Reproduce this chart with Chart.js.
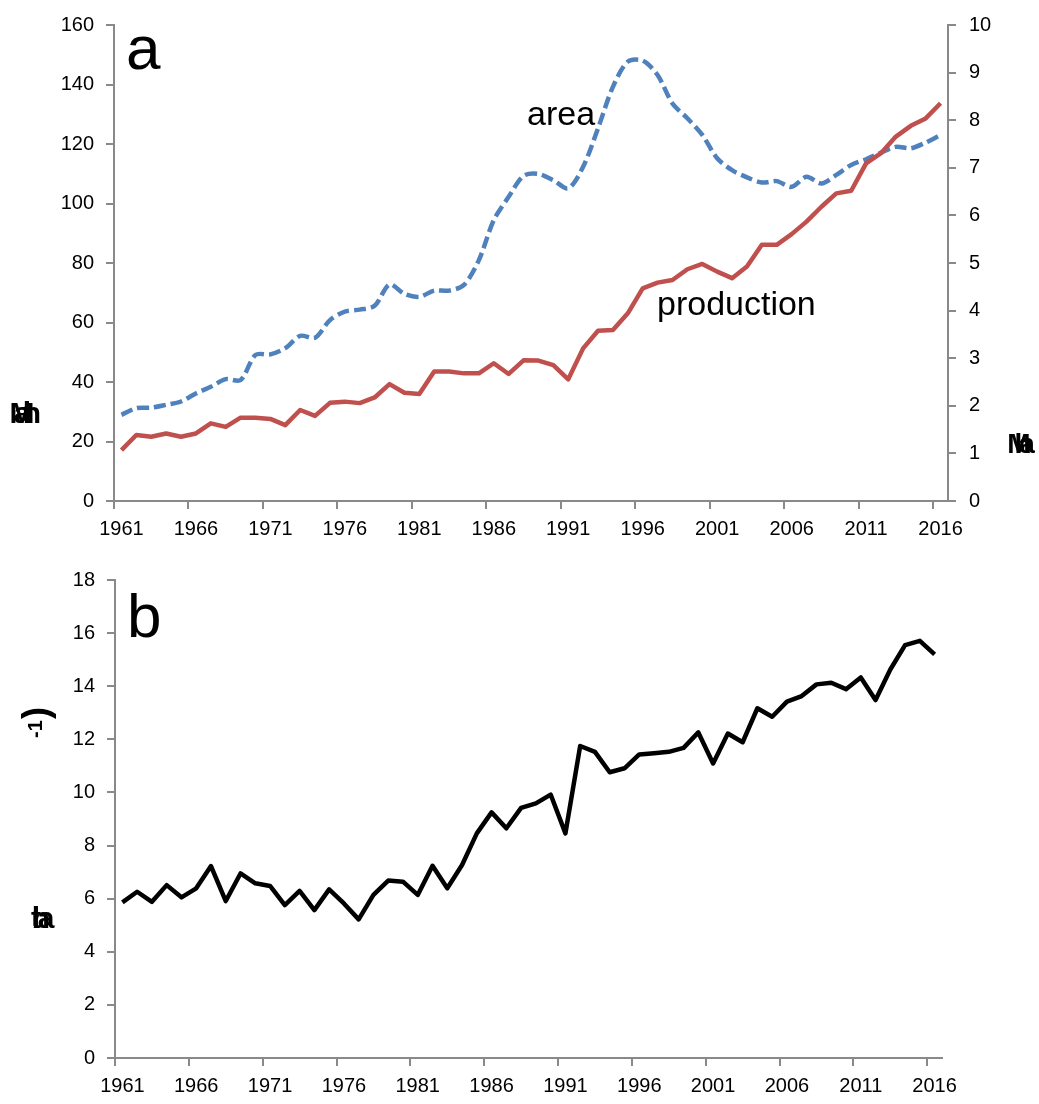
<!DOCTYPE html>
<html>
<head>
<meta charset="utf-8">
<script src="https://cdn.jsdelivr.net/npm/chart.js@4.4.1/dist/chart.umd.min.js"></script>
<style>
  body { margin: 0; background: #fff; }
  canvas { display: block; }
</style>
</head>
<body>
<canvas id="chartA" width="1039" height="548"></canvas>
<canvas id="chartB" width="1039" height="556"></canvas>
<script>
// jaren (categorieen)
const years = [
  "1961","1962","1963","1964","1965","1966","1967","1968","1969","1970",
  "1971","1972","1973","1974","1975","1976","1977","1978","1979","1980",
  "1981","1982","1983","1984","1985","1986","1987","1988","1989","1990",
  "1991","1992","1993","1994","1995","1996","1997","1998","1999","2000",
  "2001","2002","2003","2004","2005","2006","2007","2008","2009","2010",
  "2011","2012","2013","2014","2015","2016"
];

// paneel a: productie (linker as)
const production = [
  17.1, 22.2, 21.6, 22.7, 21.6, 22.7, 26.1, 24.9, 28.0, 28.0,
  27.6, 25.5, 30.6, 28.6, 33.0, 33.4, 32.9, 34.8, 39.3, 36.4,
  36.0, 43.5, 43.5, 42.9, 42.9, 46.3, 42.7, 47.3, 47.2, 45.7,
  40.9, 51.3, 57.2, 57.5, 63.1, 71.5, 73.4, 74.3, 77.9, 79.7,
  77.1, 74.9, 78.8, 86.1, 86.1, 89.7, 93.9, 98.9, 103.4, 104.3,
  113.5, 116.9, 122.5, 126.1, 128.6, 133.7
];

// paneel a: areaal (rechter as)
const area = [
  1.81, 1.95, 1.96, 2.02, 2.09, 2.26, 2.40, 2.56, 2.54, 3.07,
  3.08, 3.21, 3.47, 3.43, 3.80, 3.98, 4.02, 4.10, 4.55, 4.35,
  4.29, 4.42, 4.42, 4.54, 5.06, 5.90, 6.39, 6.83, 6.87, 6.74,
  6.57, 7.02, 7.83, 8.70, 9.23, 9.25, 8.95, 8.35, 8.04, 7.69,
  7.20, 6.95, 6.80, 6.69, 6.72, 6.60, 6.81, 6.67, 6.85, 7.06,
  7.18, 7.32, 7.44, 7.41, 7.53, 7.69
];

// paneel b: opbrengst
const yieldValues = [
  5.86, 6.26, 5.88, 6.51, 6.05, 6.39, 7.23, 5.91, 6.95, 6.58,
  6.48, 5.76, 6.29, 5.57, 6.35, 5.82, 5.22, 6.14, 6.68, 6.64,
  6.14, 7.24, 6.39, 7.27, 8.46, 9.25, 8.65, 9.42, 9.59, 9.92,
  8.46, 11.75, 11.53, 10.76, 10.91, 11.43, 11.48, 11.53, 11.68, 12.26,
  11.09, 12.22, 11.89, 13.17, 12.85, 13.42, 13.63, 14.07, 14.13, 13.89,
  14.33, 13.48, 14.63, 15.55, 15.71, 15.20
];

// as-instellingen
const yearStep = 5;
const prodTicks = { min: 0, max: 160, step: 20 };
const areaTicks = { min: 0, max: 10, step: 1 };
const yieldTicks = { min: 0, max: 18, step: 2 };

const axisGrey = '#898989';
const fontFamily = '"Liberation Sans", Arial, sans-serif';

Chart.defaults.font.family = fontFamily;
Chart.defaults.font.size = 20;
Chart.defaults.color = '#000';

// tekst in de grafiek (paneelletters, labels, kapotte astitels)
const panelText = {
  id: 'panelText',
  afterDraw(chart, args, opts) {
    const ctx = chart.ctx;
    (opts.items || []).forEach(it => {
      ctx.save();
      ctx.fillStyle = '#000';
      if (it.blob) {
        // overlappende tekens, zoals in het origineel
        ctx.font = 'bold ' + it.size + 'px ' + fontFamily;
        ctx.textAlign = 'center';
        ctx.textBaseline = 'middle';
        [...it.blob].forEach((ch, i) => {
          const dx = (i % 3 - 1) * it.spread;
          ctx.fillText(ch, it.x + dx, it.y);
        });
      } else {
        ctx.font = it.font;
        ctx.translate(it.x, it.y);
        if (it.rotate) ctx.rotate(it.rotate);
        ctx.textAlign = it.align || 'left';
        ctx.textBaseline = 'alphabetic';
        ctx.fillText(it.text, 0, 0);
      }
      ctx.restore();
    });
  }
};

function xAxis() {
  return {
    type: 'category',
    offset: true,
    grid: {
      offset: true,
      drawOnChartArea: false,
      drawTicks: true,
      tickLength: 8,
      lineWidth: 2,
      color: c => (c.index !== undefined && c.index % yearStep === 0) ? axisGrey : 'rgba(0,0,0,0)'
    },
    border: { display: true, color: axisGrey, width: 2 },
    ticks: {
      autoSkip: false,
      maxRotation: 0,
      padding: 8,
      callback: (v, i) => i % yearStep === 0 ? years[i] : ''
    }
  };
}

function yAxis(t, position, width, padding) {
  return {
    type: 'linear',
    position: position,
    min: t.min,
    max: t.max,
    afterFit: s => { s.width = width; },
    grid: { drawOnChartArea: false, drawTicks: true, tickLength: 8, lineWidth: 2, color: axisGrey },
    border: { display: true, color: axisGrey, width: 2 },
    ticks: { stepSize: t.step, padding: padding }
  };
}

new Chart(document.getElementById('chartA'), {
  type: 'line',
  data: {
    labels: years,
    datasets: [
      {
        label: 'production',
        data: production,
        yAxisID: 'y',
        borderColor: '#C0504D',
        borderWidth: 4.5,
        borderJoinStyle: 'round',
        pointRadius: 0,
        tension: 0
      },
      {
        label: 'area',
        data: area,
        yAxisID: 'y1',
        borderColor: '#4F81BD',
        borderWidth: 4.5,
        borderDash: [12, 5],
        pointRadius: 0,
        tension: 0.3
      }
    ]
  },
  options: {
    responsive: false,
    animation: false,
    layout: { padding: { top: 25, left: 0, right: 0, bottom: 0 } },
    scales: {
      x: Object.assign(xAxis(), { afterFit: s => { s.height = 47; } }),
      y: yAxis(prodTicks, 'left', 114, 12),
      y1: yAxis(areaTicks, 'right', 91, 13)
    },
    plugins: {
      legend: { display: false },
      tooltip: { enabled: false },
      panelText: {
        items: [
          { text: 'a', x: 126, y: 69, font: '62px ' + fontFamily },
          { text: 'area', x: 527, y: 125, font: '34px ' + fontFamily },
          { text: 'production', x: 657, y: 315, font: '34px ' + fontFamily },
          { blob: 'Mtha', x: 27, y: 415, size: 30, spread: 5 },
          { blob: 'Mha', x: 1023, y: 445, size: 28, spread: 4 }
        ]
      }
    }
  },
  plugins: [panelText]
});

new Chart(document.getElementById('chartB'), {
  type: 'line',
  data: {
    labels: years,
    datasets: [
      {
        label: 'yield',
        data: yieldValues,
        borderColor: '#000',
        borderWidth: 4.5,
        borderJoinStyle: 'round',
        pointRadius: 0,
        tension: 0
      }
    ]
  },
  options: {
    responsive: false,
    animation: false,
    layout: { padding: { top: 32, left: 0, right: 97, bottom: 0 } },
    scales: {
      x: Object.assign(xAxis(), { afterFit: s => { s.height = 46; } }),
      y: yAxis(yieldTicks, 'left', 115, 12)
    },
    plugins: {
      legend: { display: false },
      tooltip: { enabled: false },
      panelText: {
        items: [
          { text: 'b', x: 127, y: 89, font: '62px ' + fontFamily },
          { text: ')', x: 48, y: 165, font: 'bold 36px ' + fontFamily, rotate: -Math.PI / 2, align: 'center' },
          { text: '-1', x: 42, y: 181, font: 'bold 20px ' + fontFamily, rotate: -Math.PI / 2, align: 'center' },
          { blob: 'tha', x: 41, y: 372, size: 30, spread: 5 }
        ]
      }
    }
  },
  plugins: [panelText]
});
</script>
</body>
</html>
